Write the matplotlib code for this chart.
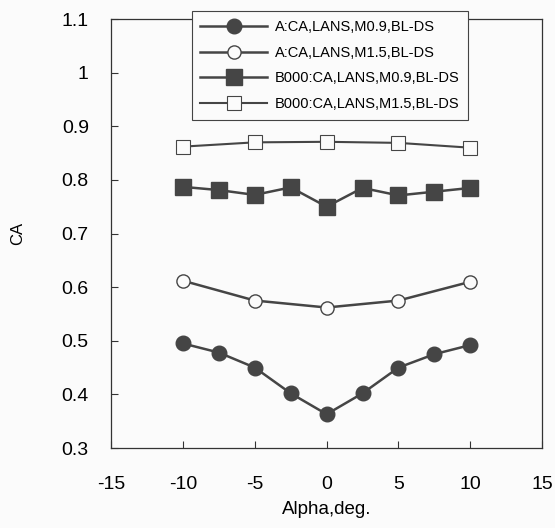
import numpy as np
import matplotlib
matplotlib.use('Agg')
import matplotlib.pyplot as plt

plt.rcParams['font.family'] = ['Liberation Sans', 'DejaVu Sans']

# data
alpha_fine = [-10, -7.5, -5, -2.5, 0, 2.5, 5, 7.5, 10]
alpha_coarse = [-10, -5, 0, 5, 10]

a_m09 = [0.495, 0.478, 0.450, 0.402, 0.363, 0.402, 0.450, 0.475, 0.492]
a_m15 = [0.612, 0.575, 0.562, 0.575, 0.610]
b_m09 = [0.787, 0.781, 0.772, 0.786, 0.750, 0.785, 0.771, 0.778, 0.785]
b_m15 = [0.862, 0.870, 0.871, 0.869, 0.860]

labels = ['A:CA,LANS,M0.9,BL-DS', 'A:CA,LANS,M1.5,BL-DS',
          'B000:CA,LANS,M0.9,BL-DS', 'B000:CA,LANS,M1.5,BL-DS']

col = '#454545'
bg = '#fbfbfb'

fig = plt.figure(figsize=(5.55, 5.28), dpi=100, facecolor=bg)
ax = fig.add_axes([0.2, 0.1515, 0.777, 0.8125], facecolor=bg)

ax.plot(alpha_fine, a_m09, '-o', color=col, lw=1.8, ms=10.5, mfc=col, mec=col, label=labels[0])
ax.plot(alpha_coarse, a_m15, '-o', color=col, lw=1.8, ms=9.5, mfc=bg, mec=col, mew=1.0, label=labels[1])
ax.plot(alpha_fine, b_m09, '-s', color=col, lw=1.8, ms=11, mfc=col, mec=col, label=labels[2])
ax.plot(alpha_coarse, b_m15, '-s', color=col, lw=1.5, ms=10.5, mfc=bg, mec=col, mew=0.8, label=labels[3])

ax.set_xlim(-15, 15)
ax.set_ylim(0.3, 1.1)
ax.set_xticks([-15, -10, -5, 0, 5, 10, 15])
ax.set_xticklabels(['-15', '-10', '-5', '0', '5', '10', '15'])
ax.set_yticks([0.3, 0.4, 0.5, 0.6, 0.7, 0.8, 0.9, 1.0, 1.1])
ax.set_yticklabels(['0.3', '0.4', '0.5', '0.6', '0.7', '0.8', '0.9', '1', '1.1'])
ax.tick_params(direction='in', length=5, width=0.8, color='#333333',
               labelsize=14, pad=16)
ax.tick_params(axis='x', pad=20)
for s in ax.spines.values():
    s.set_color('#333333')
    s.set_linewidth(0.9)

ax.set_xlabel('Alpha,deg.', fontsize=13.5, labelpad=6)
ax.set_ylabel('CA', fontsize=12, labelpad=26)

leg = ax.legend(loc='upper left', bbox_to_anchor=(0.17, 1.035), fontsize=10.5,
                frameon=True, fancybox=False, edgecolor='#444444',
                facecolor=bg, framealpha=1, handlelength=4.6,
                borderpad=0.6, labelspacing=0.8, handletextpad=0.5)
leg.get_frame().set_linewidth(0.8)

fig.savefig('out.png', dpi=100, facecolor=bg)
